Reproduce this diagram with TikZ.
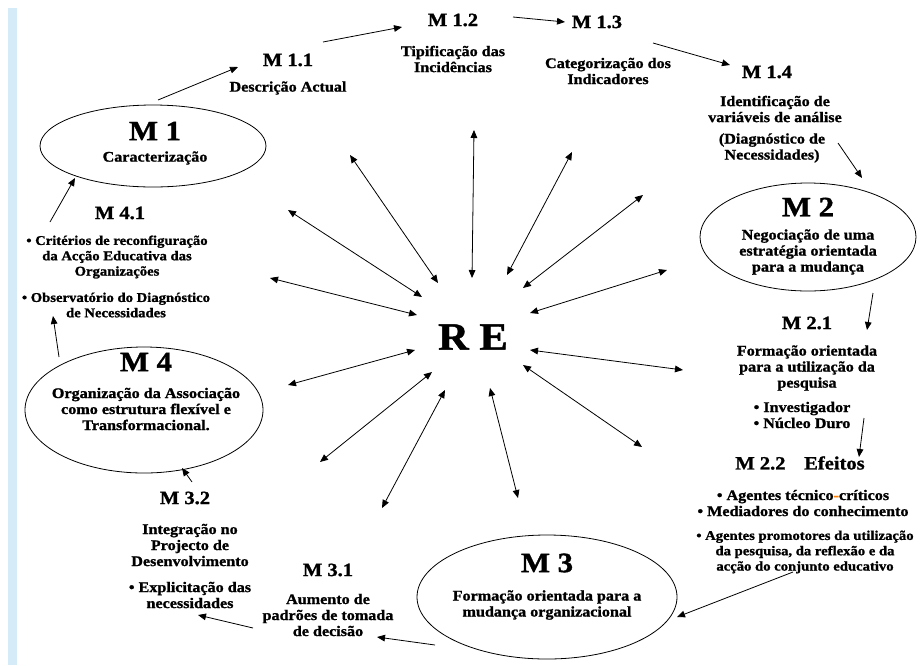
\documentclass[tikz,border=0pt]{standalone}
\usepackage{fontspec}
\setmainfont{Liberation Serif}[FakeStretch=1.1,BoldFeatures={FakeBold=1.2}]
\usetikzlibrary{shapes.geometric,arrows.meta}
\definecolor{barblue}{HTML}{D5EBF8}
\tikzset{
  stage/.style={draw,ellipse,line width=0.6pt,inner sep=0pt},
  bigtitle/.style={font=\fontsize{21}{21}\selectfont\bfseries,inner sep=0pt},
  subtitle/.style={font=\fontsize{14}{14}\selectfont\bfseries,inner sep=0pt},
  note/.style={font=\fontsize{11}{12}\selectfont\bfseries,align=center,inner sep=0pt},
  smallnote/.style={note,font=\fontsize{10}{11.5}\selectfont\bfseries},
  flow/.style={-{Triangle[length=6pt,width=5pt]},line width=0.6pt},
  spoke/.style={{Triangle[length=6pt,width=5pt]}-{Triangle[length=6pt,width=5pt]},line width=0.6pt}
}
\begin{document}
\begin{tikzpicture}[x=0.75pt,y=-0.75pt]
\useasboundingbox (0,0) rectangle (920,665);
\fill[barblue] (8,8) rectangle (17,665);
% centre of the wheel
\node[font=\fontsize{29}{29}\selectfont\bfseries] (re) at (473,337) {R E};
% the four stages
\node[stage,minimum width=226*0.75pt,minimum height=82*0.75pt] (m1) at (153,146) {};
\node[bigtitle] (m1t) at (155,131) {M 1};
\node[note] (m1d) at (155,158) {Caracterização};
\node[stage,minimum width=216*0.75pt,minimum height=108*0.75pt] (m2) at (808,237) {};
\node[bigtitle] (m2t) at (808,207) {M 2};
\node[note] (m2d) at (808,252) {Negociação de uma\\estratégia orientada\\para a mudança};
\node[stage,minimum width=260*0.75pt,minimum height=124*0.75pt] (m3) at (547,597) {};
\node[bigtitle] (m3t) at (547,563) {M 3};
\node[note] (m3d) at (547,605) {Formação orientada para a\\mudança organizacional};
\node[stage,minimum width=238*0.75pt,minimum height=126*0.75pt] (m4) at (144,410) {};
\node[bigtitle] (m4t) at (146,362) {M 4};
\node[note] (m4d) at (146,409) {Organização da Associação\\como estrutura flexível e\\Transformacional.};
% the steps between them
\node[subtitle] (m11) at (288,60) {M 1.1};
\node[note] (m11d) at (288,88) {Descrição Actual};
\node[subtitle] (m12) at (453,20) {M 1.2};
\node[note] (m12d) at (453,59) {Tipificação das\\Incidências};
\node[subtitle] (m13) at (597,22) {M 1.3};
\node[note] (m13d) at (608,71) {Categorização dos\\Indicadores};
\node[subtitle] (m14) at (767,72) {M 1.4};
\node[note] (m14d) at (775,109) {Identificação de\\variáveis de análise};
\node[note] (m14e) at (772,148) {(Diagnóstico de\\Necessidades)};
\node[subtitle] (m21) at (807,323) {M 2.1};
\node[note] (m21d) at (807,368) {Formação orientada\\para a utilização da\\pesquisa};
\node[note] (m21e) at (802,415) {• Investigador\\• Núcleo Duro};
\node[subtitle] (m22) at (800,463) {M 2.2\quad Efeitos};
\node[note] (m22d) at (803,503) {• Agentes técnico{\color{orange}-}críticos\\• Mediadores do conhecimento};
\node[smallnote] (m22e) at (805,552) {• Agentes promotores da utilização\\da pesquisa, da reflexão e da\\acção do conjunto educativo};
\node[subtitle] (m31) at (328,570) {M 3.1};
\node[note] (m31d) at (328,615) {Aumento de\\padrões de tomada\\de decisão};
\node[subtitle] (m32) at (185,498) {M 3.2};
\node[note] (m32d) at (190,545) {Integração no\\Projecto de\\Desenvolvimento};
\node[note] (m32e) at (190,595) {• Explicitação das\\necessidades};
\node[subtitle] (m41) at (120,213) {M 4.1};
\node[smallnote] (m41d) at (117,257) {• Critérios de reconfiguração\\da Acção Educativa das\\Organizações};
\node[smallnote] (m41e) at (116,305) {• Observatório do Diagnóstico\\de Necessidades};
% cycle M1 -> M4.1 -> M1
\foreach \nn/\ax/\ay/\bx/\by in {1/158/100/238/67, 2/323/42/402/27, 3/513/17/565/22,
  4/653/43/730/65, 5/838/143/862/178, 6/873/293/867/330, 7/864/418/859/457,
  8/793/572/677/617, 9/435/645/377/637, 10/253/628/198/615, 11/192/482/182/468,
  12/59/357/53/316, 13/50/222/75/178}
{
  \coordinate (fs\nn) at (\ax,\ay);
  \coordinate (fe\nn) at (\bx,\by);
  \draw[flow] (fs\nn) -- (fe\nn);
}
% spokes to and from R E
\foreach \nn/\ax/\ay/\bx/\by in {1/472/278/474/130, 2/438/283/350/155, 3/422/297/288/210,
  4/417/315/270/278, 5/415/350/288/385, 6/432/372/320/462, 7/445/390/382/508,
  8/490/388/518/498, 9/523/365/642/447, 10/530/350/683/370, 11/530/313/667/270,
  12/523/288/643/195, 13/507/275/572/152}
{
  \coordinate (rin\nn) at (\ax,\ay);
  \coordinate (rout\nn) at (\bx,\by);
  \draw[spoke] (rin\nn) -- (rout\nn);
}
\end{tikzpicture}
\end{document}
